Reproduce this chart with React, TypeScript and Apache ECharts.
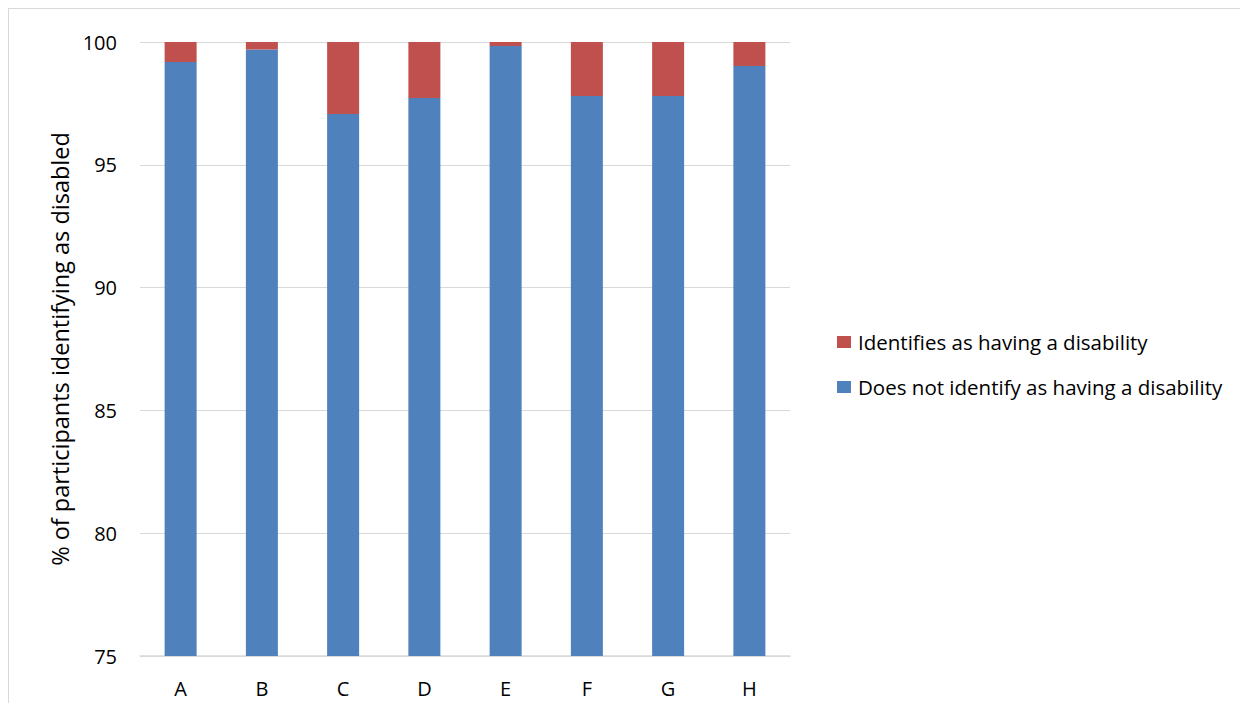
import React, { useEffect, useRef } from "react";
import * as echarts from "echarts";

const categories = ["A", "B", "C", "D", "E", "F", "G", "H"];
const notDisabled = [99.19, 99.69, 97.07, 97.72, 99.84, 97.8, 97.8, 99.02];
const disabled = [0.81, 0.31, 2.93, 2.28, 0.16, 2.2, 2.2, 0.98];
const seriesNames = ["Identifies as having a disability", "Does not identify as having a disability"];
const yTitle = "% of participants identifying as disabled";

const FONT = "Open Sans";

export default function App() {
  const ref = useRef<HTMLDivElement>(null);
  useEffect(() => {
    if (!ref.current) return;
    const chart = echarts.init(ref.current, undefined, { renderer: "svg" });
    chart.setOption({
      animation: false,
      backgroundColor: "#ffffff",
      textStyle: { fontFamily: FONT },
      grid: { left: 131, top: 33, right: 450, bottom: 55, containLabel: false },
      legend: {
        orient: "vertical",
        left: 823,
        top: 316,
        icon: "rect",
        itemWidth: 14,
        itemHeight: 12,
        itemGap: 21,
        data: seriesNames,
        textStyle: { fontFamily: FONT, fontSize: 20.5, lineHeight: 24, color: "#000000", padding: [0, 0, 0, 2] },
      },
      xAxis: {
        type: "category",
        data: categories,
        axisLine: { show: true, lineStyle: { color: "#d9d9d9", width: 1.5 } },
        axisTick: { show: false },
        axisLabel: { color: "#000000", fontSize: 20, margin: 22, fontFamily: FONT },
      },
      yAxis: {
        type: "value",
        min: 75,
        max: 100,
        interval: 5,
        name: yTitle,
        nameLocation: "middle",
        nameGap: 67,
        nameTextStyle: { color: "#000000", fontSize: 23.5, fontFamily: FONT },
        axisLine: { show: false },
        axisTick: { show: false },
        splitLine: { lineStyle: { color: "#d9d9d9", width: 1 } },
        axisLabel: { color: "#000000", fontSize: 20, margin: 23, fontFamily: FONT },
      },
      series: [
        {
          name: seriesNames[1],
          type: "bar",
          stack: "total",
          data: notDisabled,
          barWidth: 32,
          itemStyle: { color: "#4f81bd" },
        },
        {
          name: seriesNames[0],
          type: "bar",
          stack: "total",
          data: disabled,
          barWidth: 32,
          itemStyle: { color: "#c0504d" },
        },
      ],
    });
    return () => chart.dispose();
  }, []);
  return (
    <>
      <style>{"html,body{overflow:hidden;background:#ffffff;}"}</style>
      <div
        style={{
          width: 1224,
          height: 695,
          borderTop: "1px solid #d9d9d9",
          borderLeft: "1px solid #d9d9d9",
          boxSizing: "border-box",
          overflow: "visible",
          position: "relative",
        }}
      >
        <div ref={ref} style={{ position: "absolute", left: 0, top: 0, width: 1231, height: 702 }} />
      </div>
      <div
        style={{
          position: "fixed",
          left: 1224,
          top: 8,
          width: 16,
          height: 1,
          background: "#d9d9d9",
        }}
      />
    </>
  );
}
